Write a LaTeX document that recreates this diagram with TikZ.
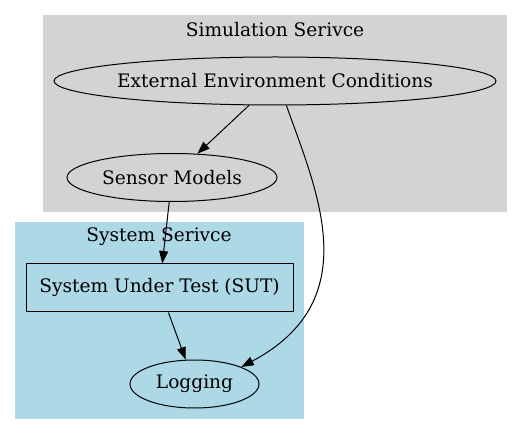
\documentclass[tikz,border=0pt]{standalone}
\usepackage{fontspec}
\setmainfont{DejaVu Serif}
\usetikzlibrary{shapes.geometric,arrows.meta}
\definecolor{clustergray}{HTML}{D3D3D3}
\definecolor{clusterblue}{HTML}{ADD8E6}

\begin{document}
\begin{tikzpicture}[x=1pt,y=-1pt,
  txt/.style={font=\fontsize{18.6}{21}\selectfont},
  oval/.style={txt,ellipse,draw,line width=1pt,inner sep=0pt,minimum height=48pt},
  box/.style={txt,rectangle,draw,line width=1pt,inner sep=0pt,minimum height=48pt},
  edge/.style={line width=1pt,-{Triangle[length=12.5pt,width=9pt]}}]
\useasboundingbox (0,0) rectangle (527,435);
% clusters
\fill[clustergray] (43,15) rectangle (507,212);
\fill[clusterblue] (15,222) rectangle (304,419);
\node[txt] (simlbl) at (275,30) {Simulation Serivce};
\node[txt] (syslbl) at (159,237) {System Serivce};
% nodes
\node[oval,minimum width=442pt,inner xsep=-4pt] (eec) at (275,81) {External Environment Conditions};
\node[oval,minimum width=210pt] (sm) at (172,177.5) {Sensor Models};
\node[box,minimum width=267pt] (sut) at (159.5,288) {System Under Test (SUT)};
\node[oval,minimum width=129pt] (log) at (194.5,384) {Logging};
% edges
\draw[edge] (eec) -- (sm);
\draw[edge] (sm) -- (sut);
\draw[edge] (sut) -- (log);
\draw[edge] (eec.-65) .. controls +(30,85) and +(126,-67) .. (log.20);
\end{tikzpicture}
\end{document}
